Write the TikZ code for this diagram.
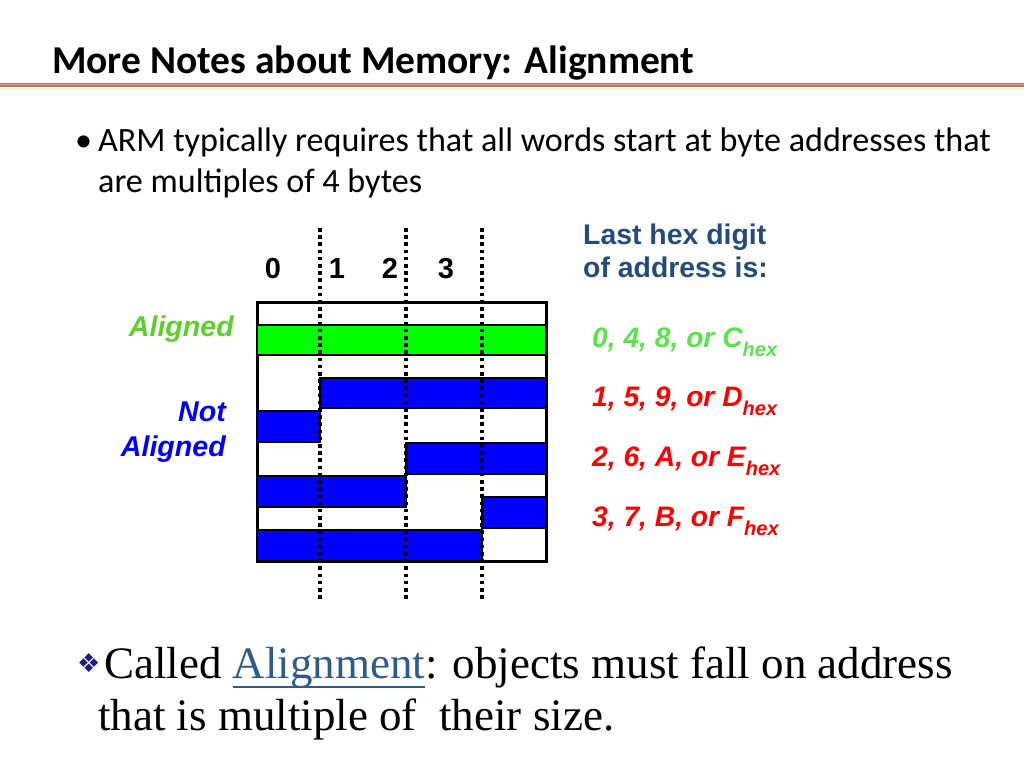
\documentclass[tikz,border=0pt]{standalone}
\usepackage{fontspec}
\setmainfont{Liberation Serif}
\newfontfamily\calibri{Carlito}
\newfontfamily\arial{Liberation Sans}
\newfontfamily\dingfont{DejaVu Sans}
\usetikzlibrary{positioning}

\definecolor{rulebrown}{HTML}{B57464}
\definecolor{rulelight}{HTML}{D9A393}
\definecolor{rulecream}{HTML}{FFF3D6}
\definecolor{headblue}{HTML}{234B7E}
\definecolor{alggreen}{HTML}{5CCF2A}
\definecolor{hexgreen}{HTML}{5CE24C}
\definecolor{linkblue}{HTML}{2D5B8C}
\definecolor{bulletnavy}{HTML}{1A1A8C}

\newcommand{\hexsub}{\raisebox{-0.32em}{\fontsize{20}{20}\selectfont hex}}
\newcommand{\ulword}[1]{\setbox0\hbox{#1}\rlap{\rule[-10pt]{\wd0}{2pt}}\box0}

\begin{document}
\begin{tikzpicture}[
    x=1pt, y=-1pt,
    txt/.style={inner sep=0pt, anchor=base west},
    collbl/.style={inner sep=0pt, anchor=base, font=\arial\bfseries\fontsize{29}{29}\selectfont},
    sidelbl/.style={inner sep=0pt, anchor=base east, font=\arial\bfseries\itshape\fontsize{28.6}{29}\selectfont},
    hexline/.style={txt, text=red, font=\arial\bfseries\itshape\fontsize{28.2}{29}\selectfont},
    word/.style={draw, line width=2.6pt, fill=blue},
    byteline/.style={line width=3.6pt, dash pattern=on 3.6pt off 3.6pt}
]
\useasboundingbox (0,0) rectangle (1024,768);

% Title
\node[txt, font=\calibri\bfseries\fontsize{39.5}{40}\selectfont] (title) at (52,73) {More Notes about Memory: Alignment};
\fill[rulebrown] (0,82.5) rectangle (1024,87);
\draw[rulelight, line width=1pt] (0,84.7) -- (1024,84.7);
\draw[rulecream, line width=2pt] (0,88.5) -- (1024,88.5);

% Bullet text
\node[txt, font=\calibri\fontsize{34.1}{34}\selectfont] (dot) at (75,151) {•};
\node[txt, font=\calibri\fontsize{34.1}{34}\selectfont] (line1) at (98,151) {ARM typically requires that all words start at byte addresses that};
\node[txt, font=\calibri\fontsize{34.1}{34}\selectfont] (line2) at (98,192) {are multiples of 4 bytes};

% Byte numbers
\node[collbl] (c0) at (273,278) {0};
\node[collbl] (c1) at (337,278) {1};
\node[collbl] (c2) at (390,278) {2};
\node[collbl] (c3) at (446,278) {3};

% Memory box and words
\draw[line width=3pt] (257,302) rectangle (546,561);
\draw[word, fill=green] (257,325) rectangle (546,355);
\draw[word] (320,378) rectangle (546,408);
\draw[word] (257,411) rectangle (320,442);
\draw[word] (406,443) rectangle (546,474);
\draw[word] (257,476) rectangle (406,507);
\draw[word] (482,497) rectangle (546,528);
\draw[word] (257,530) rectangle (482,561);

% Word boundaries
\foreach \bx in {320,406,482}
  \draw[byteline] (\bx,228) -- (\bx,600);

% Left labels
\node[sidelbl, text=alggreen] (alg) at (234,336) {Aligned};
\node[sidelbl, text=blue] (notl) at (226,421) {Not};
\node[sidelbl, text=blue] (notalg) at (226,456) {Aligned};

% Right labels
\node[txt, text=headblue, font=\arial\bfseries\fontsize{28.4}{29}\selectfont] (head1) at (583,244) {Last hex digit};
\node[txt, text=headblue, font=\arial\bfseries\fontsize{28.4}{29}\selectfont] (head2) at (583,277) {of address is:};
\node[hexline, text=hexgreen] (hex0) at (592,347) {0, 4, 8, or C\hexsub};
\node[hexline] (hex1) at (592,406) {1, 5, 9, or D\hexsub};
\node[hexline] (hex2) at (592,466) {2, 6, A, or E\hexsub};
\node[hexline] (hex3) at (592,526) {3, 7, B, or F\hexsub};

% Bottom note
\node[txt, text=bulletnavy, font=\dingfont\fontsize{26}{26}\selectfont] (diam) at (77,672) {❖};
\node[txt, font=\fontsize{45}{45}\selectfont] (note1) at (104,678) {Called \textcolor{linkblue}{\ulword{Alignment}}: objects must fall on address};
\node[txt, font=\fontsize{45}{45}\selectfont] (note2) at (98,730) {that is multiple of\ \ their size.};

\end{tikzpicture}
\end{document}
